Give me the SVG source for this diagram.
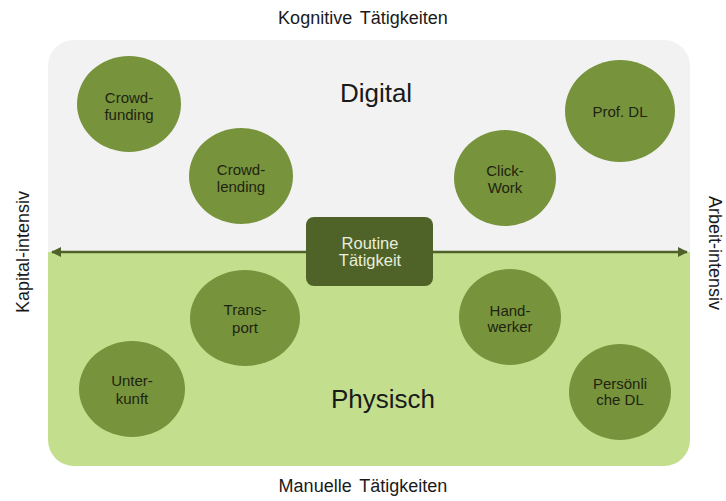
<svg xmlns="http://www.w3.org/2000/svg" width="726" height="501" viewBox="0 0 726 501">
  <style>
    .lbl { font-family: "Liberation Sans", Arial, sans-serif; fill: #1a1a1a; }
    .axis { font-size: 18px; text-anchor: middle; }
    .big { font-size: 26px; text-anchor: middle; }
    .node ellipse { fill: #77933c; }
    .node text { font-family: "Liberation Sans", Arial, sans-serif; font-size: 15px; fill: #1e2410; text-anchor: middle; }
    .routine rect { fill: #4f6228; }
    .routine text { font-family: "Liberation Sans", Arial, sans-serif; font-size: 16.5px; fill: #e8efdc; text-anchor: middle; }
  </style>
  <defs>
    <clipPath id="panelClip">
      <rect x="48" y="40" width="642" height="426" rx="26" ry="26"/>
    </clipPath>
    <marker id="ah" viewBox="0 0 10 10" refX="9" refY="5" markerWidth="4" markerHeight="4" orient="auto-start-reverse" markerUnits="strokeWidth">
      <path d="M0,0 L10,5 L0,10 z" fill="#4f6228"/>
    </marker>
  </defs>

  <rect width="726" height="501" fill="#ffffff"/>

  <g id="panel" clip-path="url(#panelClip)">
    <rect x="48" y="40" width="642" height="212" fill="#f2f2f2"/>
    <rect x="48" y="252" width="642" height="214" fill="#c3df8e"/>
  </g>

  <g id="axis-labels" class="lbl">
    <text class="axis" x="363" y="24" word-spacing="3">Kognitive Tätigkeiten</text>
    <text class="axis" x="363" y="492" word-spacing="3">Manuelle Tätigkeiten</text>
    <text class="axis" transform="translate(29,252) rotate(-90)">Kapital-intensiv</text>
    <text class="axis" transform="translate(709,253) rotate(90)">Arbeit-intensiv</text>
  </g>

  <g id="region-labels" class="lbl">
    <text class="big" x="376" y="102">Digital</text>
    <text class="big" x="383" y="408">Physisch</text>
  </g>

  <g id="connectors">
    <line x1="52" y1="252" x2="687" y2="252" stroke="#4f6228" stroke-width="2.5" marker-start="url(#ah)" marker-end="url(#ah)"/>
  </g>

  <g id="routine" class="routine">
    <rect x="306" y="217" width="127" height="69" rx="8" ry="8"/>
    <text x="370" y="249">Routine</text>
    <text x="370" y="266">Tätigkeit</text>
  </g>

  <g id="crowdfunding" class="node">
    <ellipse cx="129" cy="104" rx="52" ry="48"/>
    <text x="129" y="103">Crowd-</text>
    <text x="129" y="120">funding</text>
  </g>
  <g id="crowdlending" class="node">
    <ellipse cx="241" cy="176" rx="52" ry="48"/>
    <text x="241" y="175">Crowd-</text>
    <text x="241" y="192">lending</text>
  </g>
  <g id="clickwork" class="node">
    <ellipse cx="505" cy="178" rx="51" ry="48"/>
    <text x="505" y="176">Click-</text>
    <text x="505" y="193">Work</text>
  </g>
  <g id="profdl" class="node">
    <ellipse cx="620" cy="111" rx="55" ry="51"/>
    <text x="620" y="117">Prof. DL</text>
  </g>
  <g id="transport" class="node">
    <ellipse cx="245" cy="318" rx="55" ry="48"/>
    <text x="245" y="315">Trans-</text>
    <text x="245" y="333">port</text>
  </g>
  <g id="handwerker" class="node">
    <ellipse cx="510" cy="317" rx="51" ry="48"/>
    <text x="510" y="316">Hand-</text>
    <text x="510" y="332">werker</text>
  </g>
  <g id="unterkunft" class="node">
    <ellipse cx="132" cy="389" rx="53" ry="48"/>
    <text x="132" y="386">Unter-</text>
    <text x="132" y="404">kunft</text>
  </g>
  <g id="persoenliche" class="node">
    <ellipse cx="620" cy="392" rx="51" ry="48"/>
    <text x="620" y="389">Persönli</text>
    <text x="620" y="405">che DL</text>
  </g>
</svg>
